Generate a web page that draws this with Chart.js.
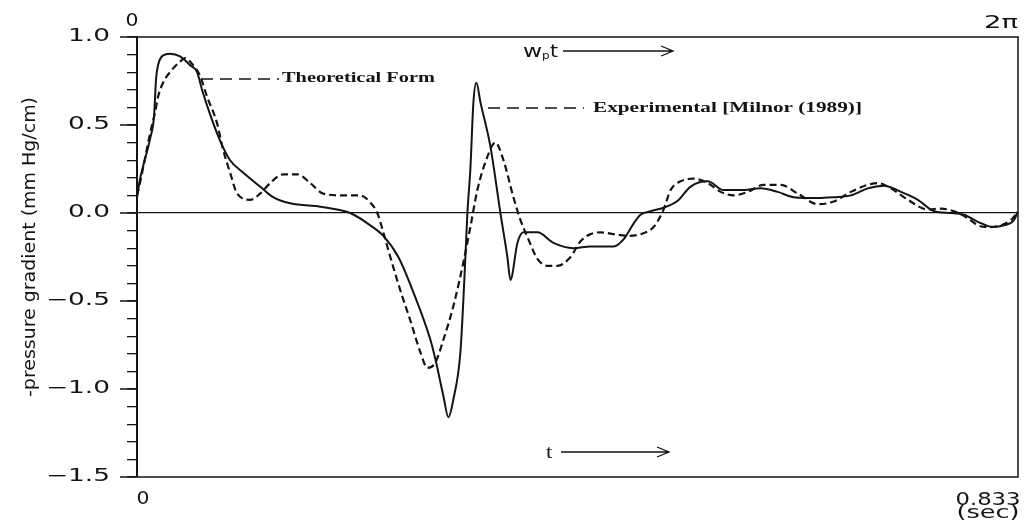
<!DOCTYPE html>
<html>
<head>
<meta charset="utf-8">
<script src="https://cdn.jsdelivr.net/npm/chart.js@4/dist/chart.umd.min.js"></script>
<style>
  html, body { margin: 0; padding: 0; background: #fff; }
  canvas { display: block; }
</style>
</head>
<body>
<canvas id="chart" width="1030" height="526"></canvas>
<script>
// time in seconds (one cardiac period = 0.833 s) and -dp/dx in mm Hg/cm
const tTheory = [0, 0.0028, 0.0123, 0.0161, 0.0180, 0.0199, 0.0246, 0.0312, 0.0407, 0.0502,
  0.0568, 0.0615, 0.0691, 0.0786, 0.0880, 0.1003, 0.1164, 0.1287, 0.1448, 0.1732,
  0.1893, 0.2016, 0.2206, 0.2329, 0.2471, 0.2613, 0.2774, 0.2821, 0.2897, 0.2944,
  0.2991, 0.3058, 0.3095, 0.3124, 0.3152, 0.3181, 0.3209, 0.3247, 0.3341, 0.3436,
  0.3502, 0.3531, 0.3597, 0.3654, 0.3786, 0.3938, 0.4127, 0.4288, 0.4506, 0.4600,
  0.4695, 0.4761, 0.4856, 0.4979, 0.5112, 0.5235, 0.5396, 0.5547, 0.5708, 0.5897,
  0.6058, 0.6210, 0.6437, 0.6588, 0.6749, 0.6910, 0.7062, 0.7223, 0.7383, 0.7535,
  0.7696, 0.7819, 0.7951, 0.8093, 0.8198, 0.8293, 0.8330];
const pTheory = [0.09, 0.19, 0.42, 0.55, 0.76, 0.84, 0.895, 0.905, 0.89, 0.84,
  0.80, 0.70, 0.56, 0.41, 0.30, 0.23, 0.15, 0.09, 0.055, 0.036,
  0.02, 0.0, -0.07, -0.13, -0.25, -0.45, -0.72, -0.83, -1.04, -1.16,
  -1.06, -0.79, -0.38, 0.0, 0.25, 0.63, 0.74, 0.63, 0.38, 0.0,
  -0.25, -0.38, -0.17, -0.11, -0.11, -0.17, -0.20, -0.19, -0.19, -0.15,
  -0.06, -0.01, 0.01, 0.03, 0.07, 0.15, 0.18, 0.13, 0.13, 0.14,
  0.12, 0.09, 0.085, 0.09, 0.10, 0.14, 0.155, 0.12, 0.075, 0.01,
  0.0, -0.01, -0.05, -0.08, -0.07, -0.04, 0.01];

const tExp = [0, 0.0028, 0.0123, 0.0170, 0.0199, 0.0246, 0.0312, 0.0407, 0.0454, 0.0530,
  0.0596, 0.0663, 0.0757, 0.0814, 0.0880, 0.0947, 0.1070, 0.1164, 0.1259, 0.1382,
  0.1515, 0.1638, 0.1761, 0.1950, 0.2111, 0.2206, 0.2272, 0.2329, 0.2395, 0.2490,
  0.2584, 0.2679, 0.2745, 0.2821, 0.2897, 0.2991, 0.3086, 0.3152, 0.3218, 0.3313,
  0.3389, 0.3465, 0.3559, 0.3626, 0.3701, 0.3786, 0.3881, 0.3976, 0.4099, 0.4194,
  0.4288, 0.4383, 0.4506, 0.4638, 0.4761, 0.4884, 0.4979, 0.5045, 0.5140, 0.5263,
  0.5396, 0.5519, 0.5642, 0.5774, 0.5926, 0.6087, 0.6248, 0.6437, 0.6588, 0.6749,
  0.6910, 0.7005, 0.7128, 0.7289, 0.7478, 0.7601, 0.7724, 0.7857, 0.7951, 0.8046,
  0.8169, 0.8264, 0.8321];
const pExp = [0.10, 0.17, 0.45, 0.57, 0.66, 0.74, 0.80, 0.86, 0.88, 0.84,
  0.78, 0.66, 0.51, 0.36, 0.23, 0.11, 0.075, 0.11, 0.17, 0.22,
  0.22, 0.17, 0.11, 0.10, 0.10, 0.06, 0.0, -0.11, -0.25, -0.44,
  -0.61, -0.79, -0.88, -0.85, -0.72, -0.53, -0.28, -0.08, 0.13, 0.32,
  0.40, 0.30, 0.09, -0.04, -0.15, -0.26, -0.30, -0.30, -0.25, -0.16,
  -0.12, -0.11, -0.12, -0.13, -0.12, -0.08, 0.02, 0.13, 0.18, 0.195,
  0.17, 0.12, 0.10, 0.12, 0.16, 0.16, 0.11, 0.05, 0.065, 0.12,
  0.16, 0.17, 0.14, 0.075, 0.02, 0.025, 0.01, -0.03, -0.07, -0.08,
  -0.07, -0.04, 0.0];

const yMajorTicks = [-1.5, -1.0, -0.5, 0.0, 0.5, 1.0];
const yMinorTicks = [-1.4, -1.3, -1.2, -1.1, -0.9, -0.8, -0.7, -0.6, -0.4, -0.3, -0.2, -0.1,
  0.1, 0.2, 0.3, 0.4, 0.6, 0.7, 0.8, 0.9];
const tMax = 0.833;

const INK = '#141414';
const PLOT_FONT = 'DejaVu Sans';
const SERIF = 'Liberation Serif';

const pts = (xs, ys) => xs.map((x, i) => ({ x, y: ys[i] }));

function stretchText(ctx, text, x, y, font, sx, align = 'left', base = 'middle') {
  ctx.save();
  ctx.translate(x, y);
  ctx.scale(sx, 1);
  ctx.font = font;
  ctx.textAlign = align;
  ctx.textBaseline = base;
  ctx.fillStyle = INK;
  ctx.fillText(text, 0, 0);
  ctx.restore();
}

function fitText(ctx, text, x, y, font, width, align = 'left', base = 'middle') {
  ctx.save();
  ctx.font = font;
  const sx = width / ctx.measureText(text).width;
  ctx.restore();
  stretchText(ctx, text, x, y, font, sx, align, base);
}

function arrow(ctx, x1, x2, y) {
  ctx.beginPath();
  ctx.moveTo(x1, y);
  ctx.lineTo(x2, y);
  ctx.moveTo(x2 - 12, y - 5);
  ctx.lineTo(x2, y);
  ctx.lineTo(x2 - 12, y + 5);
  ctx.stroke();
}

const paperPlugin = {
  id: 'paper',
  beforeDatasetsDraw(chart) {
    const { ctx, chartArea: a, scales: { y } } = chart;
    ctx.save();
    ctx.strokeStyle = INK;
    ctx.lineWidth = 1.5;
    ctx.beginPath();
    ctx.moveTo(a.left, a.top);
    ctx.lineTo(a.right, a.top);
    ctx.lineTo(a.right, a.bottom);
    ctx.lineTo(a.left, a.bottom);
    ctx.stroke();
    ctx.lineWidth = 1.4;
    ctx.beginPath();
    yMajorTicks.forEach(v => {
      const py = y.getPixelForValue(v);
      ctx.moveTo(a.left - 17, py);
      ctx.lineTo(a.left, py);
    });
    ctx.stroke();
    ctx.restore();
  },
  afterDraw(chart) {
    const { ctx, chartArea: a, scales: { x, y } } = chart;
    const tickFont = `17px ${PLOT_FONT}`;

    // y tick labels
    yMajorTicks.forEach(v => {
      const label = (v < 0 ? '\u2212' : '') + Math.abs(v).toFixed(1);
      stretchText(ctx, label, a.left - 27, y.getPixelForValue(v), tickFont, 1.55, 'right');
    });

    // phase (top) and time (bottom) end labels
    const x0 = x.getPixelForValue(0), x1 = x.getPixelForValue(tMax);
    stretchText(ctx, '0', x0 - 5, a.top - 15, tickFont, 1.2, 'center');
    fitText(ctx, '2\u03c0', x1 - 17, a.top - 13, tickFont, 34, 'center');
    stretchText(ctx, '0', x0 + 6, a.bottom + 23, tickFont, 1.2, 'center');
    fitText(ctx, '0.833', x1 - 30, a.bottom + 24, tickFont, 65, 'center');
    fitText(ctx, '(sec)', x1 - 30, a.bottom + 37, tickFont, 63, 'center');

    // y axis title
    ctx.save();
    ctx.translate(30, 247);
    ctx.rotate(-Math.PI / 2);
    fitText(ctx, '-pressure gradient (mm Hg/cm)', 0, 0, `18px ${PLOT_FONT}`, 300, 'center');
    ctx.restore();

    // curve labels with dashed leaders
    ctx.save();
    ctx.strokeStyle = INK;
    ctx.lineWidth = 1.3;
    ctx.setLineDash([12, 7]);
    ctx.beginPath();
    ctx.moveTo(201, 79);
    ctx.lineTo(279, 79);
    ctx.moveTo(488, 108);
    ctx.lineTo(584, 108);
    ctx.stroke();
    ctx.restore();
    fitText(ctx, 'Theoretical Form', 282, 78, `bold 15px ${SERIF}`, 153);
    fitText(ctx, 'Experimental [Milnor (1989)]', 593, 108, `bold 15px ${SERIF}`, 269);

    // w_p t arrow (phase) and t arrow (time)
    stretchText(ctx, 'w', 523, 57, `18px ${PLOT_FONT}`, 1.3, 'left', 'alphabetic');
    stretchText(ctx, 'p', 542, 59, `10px ${PLOT_FONT}`, 1.2, 'left', 'alphabetic');
    stretchText(ctx, 't', 550, 57, `17px ${PLOT_FONT}`, 1.2, 'left', 'alphabetic');
    stretchText(ctx, 't', 546, 458, `19px ${SERIF}`, 1.2, 'left', 'alphabetic');
    ctx.save();
    ctx.strokeStyle = INK;
    ctx.lineWidth = 1.3;
    arrow(ctx, 563, 673, 51);
    arrow(ctx, 561, 669, 452);
    ctx.restore();
  }
};

new Chart(document.getElementById('chart'), {
  type: 'line',
  data: {
    datasets: [
      {
        label: 'Experimental [Milnor (1989)]',
        data: pts(tExp, pExp),
        borderColor: INK,
        borderWidth: 2.2,
        borderDash: [7, 4],
        pointRadius: 0,
        cubicInterpolationMode: 'monotone',
        fill: false
      },
      {
        label: 'Theoretical Form',
        data: pts(tTheory, pTheory),
        borderColor: INK,
        borderWidth: 2,
        pointRadius: 0,
        cubicInterpolationMode: 'monotone',
        fill: false
      }
    ]
  },
  options: {
    responsive: false,
    animation: false,
    events: [],
    layout: { padding: { left: 0, right: 12, top: 37, bottom: 49 } },
    plugins: { legend: { display: false }, tooltip: { enabled: false } },
    scales: {
      x: { type: 'linear', min: 0, max: tMax, display: false },
      y: {
        min: -1.5,
        max: 1.0,
        afterFit: scale => { scale.width = 137; },
        afterBuildTicks: scale => {
          scale.ticks = yMajorTicks.concat(yMinorTicks).sort((p, q) => p - q).map(value => ({ value }));
        },
        ticks: { display: false },
        grid: {
          color: c => (c.tick && Math.abs(c.tick.value) < 1e-9 ? INK : 'rgba(0,0,0,0)'),
          lineWidth: 1.3,
          tickColor: INK,
          tickLength: 10,
          tickWidth: 1.3
        },
        border: { color: INK, width: 2 }
      }
    }
  },
  plugins: [paperPlugin]
});
</script>
</body>
</html>
